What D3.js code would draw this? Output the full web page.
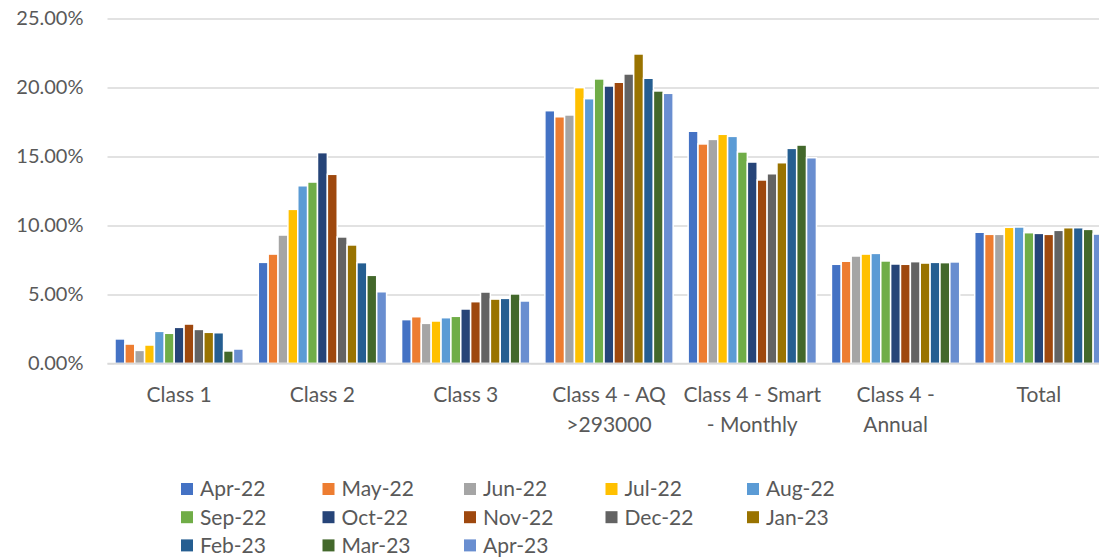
<!DOCTYPE html>
<html>
<head>
<meta charset="utf-8">
<script src="https://cdn.jsdelivr.net/npm/d3@7"></script>
<style>
  html, body { margin: 0; padding: 0; background: #fff; overflow: hidden; }
  svg { display: block; }
  text { font-family: Lato, "Open Sans", sans-serif; fill: #595959; }
</style>
</head>
<body>
<svg id="chart" width="1099" height="557"></svg>
<script>
// Customer classes shown along the x axis (line breaks split the labels)
const categories = [
  ["Class 1"],
  ["Class 2"],
  ["Class 3"],
  ["Class 4 - AQ", ">293000"],
  ["Class 4 - Smart", "- Monthly"],
  ["Class 4 -", "Annual"],
  ["Total"]
];

// Monthly series, one value per class (percent)
const months = ["Apr-22","May-22","Jun-22","Jul-22","Aug-22","Sep-22","Oct-22",
                "Nov-22","Dec-22","Jan-23","Feb-23","Mar-23","Apr-23"];

const apr22 = [1.78, 7.33, 3.18, 18.32, 16.83, 7.19, 9.51];
const may22 = [1.41, 7.93, 3.39, 17.88, 15.91, 7.41, 9.36];
const jun22 = [0.95, 9.31, 2.91, 18.01, 16.24, 7.79, 9.36];
const jul22 = [1.34, 11.17, 3.08, 19.99, 16.61, 7.93, 9.87];
const aug22 = [2.33, 12.88, 3.32, 19.19, 16.46, 7.98, 9.89];
const sep22 = [2.19, 13.15, 3.42, 20.62, 15.33, 7.43, 9.48];
const oct22 = [2.62, 15.28, 3.95, 20.11, 14.60, 7.21, 9.43];
const nov22 = [2.86, 13.71, 4.48, 20.38, 13.30, 7.19, 9.36];
const dec22 = [2.47, 9.17, 5.18, 20.98, 13.75, 7.38, 9.65];
const jan23 = [2.26, 8.59, 4.67, 22.43, 14.55, 7.28, 9.84];
const feb23 = [2.23, 7.31, 4.72, 20.67, 15.59, 7.33, 9.84];
const mar23 = [0.91, 6.39, 5.04, 19.75, 15.83, 7.31, 9.72];
const apr23 = [1.05, 5.20, 4.53, 19.58, 14.91, 7.36, 9.38];

const seriesValues = [apr22, may22, jun22, jul22, aug22, sep22, oct22,
                      nov22, dec22, jan23, feb23, mar23, apr23];

const yTicks = [0, 5, 10, 15, 20, 25];

const colors = ["#4472C4","#ED7D31","#A5A5A5","#FFC000","#5B9BD5","#70AD47","#264478",
                "#9E480E","#636363","#997300","#255E91","#43682B","#698ED0"];

const svg = d3.select("#chart");

const plotLeft = 107.5, plotRight = 1110.5;
const plotTop = 18.5, plotBottom = 363.5;

const y = d3.scaleLinear().domain([0, 25]).range([plotBottom, plotTop]);
const catKeys = categories.map(c => c.join(" "));
const x0 = d3.scaleBand().domain(catKeys).range([plotLeft, plotRight]).padding(0);
const groupInset = 7.5;
const x1 = d3.scaleBand().domain(months)
  .range([groupInset, x0.bandwidth() - groupInset]).padding(0);
const color = d3.scaleOrdinal().domain(months).range(colors);

// Horizontal gridlines and y-axis labels
const yAxis = d3.axisLeft(y).tickValues(yTicks)
  .tickSize(-(plotRight - plotLeft))
  .tickPadding(24)
  .tickFormat(d => d3.format(".2f")(d) + "%");

const gy = svg.append("g")
  .attr("transform", `translate(${plotLeft},0)`)
  .call(yAxis);
gy.select(".domain").remove();
gy.selectAll(".tick line").attr("stroke", "#D9D9D9").attr("stroke-width", 1.5);
gy.selectAll(".tick text")
  .style("font-size", "20px")
  .attr("fill", "#595959");

// Bars
const groups = svg.append("g").selectAll("g")
  .data(catKeys)
  .join("g")
  .attr("transform", d => `translate(${x0(d)},0)`);

groups.selectAll("rect")
  .data((d, ci) => months.map((m, si) => ({ month: m, value: seriesValues[si][ci] })))
  .join("rect")
  .attr("x", d => x1(d.month))
  .attr("width", x1.bandwidth())
  .attr("y", d => y(d.value))
  .attr("height", d => y(0) - y(d.value))
  .attr("fill", d => color(d.month))
  .attr("stroke", "#fff")
  .attr("stroke-width", 1.5);

// Baseline
svg.append("line")
  .attr("x1", plotLeft).attr("x2", plotRight)
  .attr("y1", y(0)).attr("y2", y(0))
  .attr("stroke", "#D9D9D9").attr("stroke-width", 1.5);

// Category labels
const catLabels = svg.append("g").selectAll("text")
  .data(categories)
  .join("text")
  .attr("x", (d, i) => x0(catKeys[i]) + x0.bandwidth() / 2)
  .attr("y", 402)
  .attr("text-anchor", "middle")
  .style("font-size", "21px");
catLabels.selectAll("tspan")
  .data(d => d)
  .join("tspan")
  .attr("x", function () { return d3.select(this.parentNode).attr("x"); })
  .attr("dy", (d, i) => i === 0 ? 0 : 30)
  .text(d => d);

// Legend: 5 columns, 3 rows
const legend = svg.append("g");
const legCols = 5, legX = 181, legColW = 141.5, legY = 489, legRowH = 28.2;
const items = legend.selectAll("g")
  .data(months)
  .join("g")
  .attr("transform", (d, i) =>
    `translate(${legX + (i % legCols) * legColW},${legY + Math.floor(i / legCols) * legRowH})`);
items.append("rect")
  .attr("x", 0).attr("y", -6)
  .attr("width", 12).attr("height", 12)
  .attr("fill", d => color(d));
items.append("text")
  .attr("x", 19).attr("y", 0)
  .attr("dy", "0.35em")
  .style("font-size", "21px")
  .text(d => d);
</script>
</body>
</html>
